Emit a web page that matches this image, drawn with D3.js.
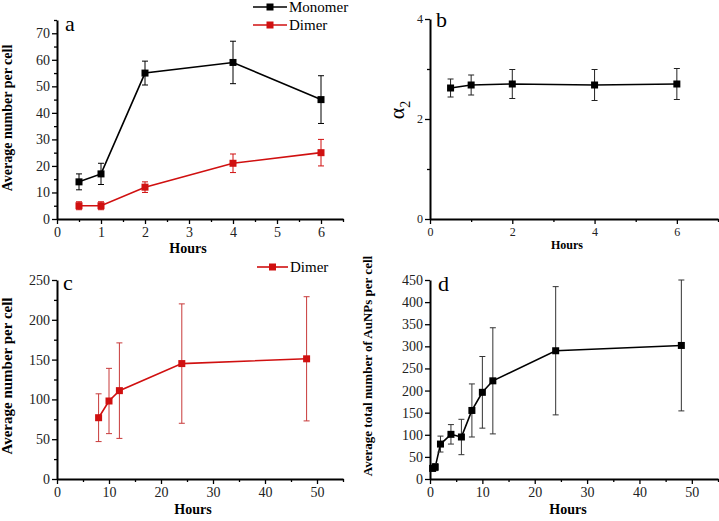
<!DOCTYPE html>
<html><head><meta charset="utf-8">
<script src="https://cdn.jsdelivr.net/npm/d3@7"></script>
<style>body{margin:0;background:#fff}svg text{font-family:"Liberation Serif","Times New Roman","DejaVu Serif",serif !important}</style>
</head><body><svg id="c" width="719" height="521"></svg>
<script>
// Panel a
const hoursA = [0.5, 1, 2, 4, 6];
const monomerA = [14, 17, 55, 59, 45];
const monomerErrA = [3, 4, 4.5, 8, 9];
const dimerA = [5, 5, 12, 21, 25];
const dimerErrA = [1.5, 1.5, 2, 3.5, 5];
// Panel b
const hoursB = [0.5, 1, 2, 4, 6];
const alphaB = [2.62, 2.68, 2.7, 2.68, 2.7];
const alphaErrB = [0.18, 0.2, 0.29, 0.31, 0.31];
// Panel c
const hoursC = [8, 10, 12, 24, 48];
const dimerC = [77, 98, 111, 145, 151];
const dimerErrC = [30, 41, 60, 75, 78];
// Panel d
const hoursD = [0.5, 1, 2, 4, 6, 8, 10, 12, 24, 48];
const totalD = [24, 27, 79, 101, 95, 155, 196, 222, 290, 302];
const totalErrD = [6, 8, 18, 22, 40, 60, 81, 120, 145, 148];

const RED = "#d01010", BLACK = "#000";
const FONT = '"Liberation Serif","Times New Roman",serif';
const svg = d3.select("#c");
const fmt = d3.format("d");

function panel(o){
  const g = svg.append("g");
  const x = d3.scaleLinear().domain(o.xd).range([o.x0, o.x1]);
  const y = d3.scaleLinear().domain(o.yd).range([o.y0, o.y1]);
  g.append("g").attr("transform",`translate(0,${o.y0})`)
    .call(d3.axisBottom(x).tickValues(o.xMinor).tickSize(3).tickFormat(""))
    .call(s=>s.select(".domain").remove());
  g.append("g").attr("transform",`translate(${o.x0},0)`)
    .call(d3.axisLeft(y).tickValues(o.yMinor).tickSize(3).tickFormat(""))
    .call(s=>s.select(".domain").remove());
  const ax = g.append("g").attr("transform",`translate(0,${o.y0})`)
    .call(d3.axisBottom(x).tickValues(o.xMajor).tickFormat(fmt).tickSize(5).tickPadding(3).tickSizeOuter(0));
  const ay = g.append("g").attr("transform",`translate(${o.x0},0)`)
    .call(d3.axisLeft(y).tickValues(o.yMajor).tickFormat(fmt).tickSize(5).tickPadding(2).tickSizeOuter(0));
  [ax, ay].forEach(a=>{
    a.attr("font-family",FONT);
    a.selectAll("text").style("font-family",FONT).attr("font-size",o.fs).attr("fill","#222");
    a.select(".domain").attr("stroke-width",2);
  });
  g.selectAll(".tick line").attr("stroke-width",1.3);
  g.append("text").attr("x",o.xtX).attr("y",o.xtY).attr("text-anchor","middle")
    .attr("font-weight","bold").attr("font-size",o.xtFs||14).text("Hours");
  if (o.yt) g.append("text").attr("transform",`translate(${o.ytX},${o.ytY}) rotate(-90)`)
    .attr("text-anchor","middle").attr("font-weight","bold").attr("font-size",o.ytFs||13).text(o.yt);
  g.append("text").attr("x",o.lx).attr("y",o.ly).attr("font-size",o.lfs||22).text(o.letter);
  return {g,x,y};
}

function series(p, xs, ys, es, color, ecolor, ew, sz){
  const {g,x,y} = p;
  const line = d3.line().x((d,i)=>x(xs[i])).y(d=>y(d));
  g.append("path").datum(ys).attr("d",line).attr("fill","none").attr("stroke",color).attr("stroke-width",1.6);
  const eb = g.append("g").attr("stroke",ecolor).attr("stroke-width",ew);
  ys.forEach((v,i)=>{
    const cx = x(xs[i]), t = y(v+es[i]), b = y(v-es[i]);
    eb.append("line").attr("x1",cx).attr("x2",cx).attr("y1",t).attr("y2",b);
    eb.append("line").attr("x1",cx-3).attr("x2",cx+3).attr("y1",t).attr("y2",t);
    eb.append("line").attr("x1",cx-3).attr("x2",cx+3).attr("y1",b).attr("y2",b);
  });
  g.selectAll(null).data(ys).enter().append("rect")
    .attr("x",(d,i)=>x(xs[i])-sz/2).attr("y",d=>y(d)-sz/2)
    .attr("width",sz).attr("height",sz).attr("fill",color);
}

function legendItem(x1, x2, yy, color, label){
  svg.append("line").attr("x1",x1).attr("x2",x2).attr("y1",yy).attr("y2",yy).attr("stroke",color).attr("stroke-width",1.6);
  svg.append("rect").attr("x",(x1+x2)/2-3.5).attr("y",yy-3.5).attr("width",7).attr("height",7).attr("fill",color);
  svg.append("text").attr("x",x2+2).attr("y",yy+5).attr("font-size",15).text(label);
}

// Panel a
const pa = panel({xd:[0,6.5], yd:[0,75], x0:57, x1:343, y0:219, y1:20,
  xMajor:[0,1,2,3,4,5,6], xMinor:d3.range(0.5,6.6,1),
  yMajor:d3.range(0,71,10), yMinor:d3.range(5,76,10), fs:14,
  xtX:188, xtY:253, yt:"Average number per cell", ytX:12, ytY:118, ytFs:14,
  letter:"a", lx:65, ly:31});
series(pa, hoursA, monomerA, monomerErrA, BLACK, BLACK, 1, 7);
series(pa, hoursA, dimerA, dimerErrA, RED, RED, 1, 7);
legendItem(253, 287, 7, BLACK, "Monomer");
legendItem(253, 287, 25, RED, "Dimer");

// Panel b
const pb = panel({xd:[0,7], yd:[0,4], x0:430, x1:718, y0:219, y1:19,
  xMajor:[0,2,4,6], xMinor:[1,3,5,7],
  yMajor:[0,2,4], yMinor:[1,3], fs:12,
  xtX:567, xtY:249, xtFs:12, yt:null,
  letter:"b", lx:436, ly:27, lfs:22});
svg.append("text").attr("transform","translate(404,110) rotate(-90)").attr("text-anchor","middle")
  .attr("font-size",22).html('α<tspan font-size="14" dy="6">2</tspan>');
series(pb, hoursB, alphaB, alphaErrB, BLACK, "#222", 1, 7);

// Panel c
const pc = panel({xd:[0,55], yd:[0,250], x0:57, x1:343, y0:479, y1:280,
  xMajor:[0,10,20,30,40,50], xMinor:[5,15,25,35,45,55],
  yMajor:d3.range(0,251,50), yMinor:d3.range(25,251,50), fs:14,
  xtX:193, xtY:514, yt:"Average number per cell", ytX:12, ytY:376, ytFs:15,
  letter:"c", lx:63, ly:290});
series(pc, hoursC, dimerC, dimerErrC, RED, "#c83a3a", 1, 7);
legendItem(257, 288, 267, RED, "Dimer");

// Panel d
const pd = panel({xd:[0,55], yd:[0,450], x0:430, x1:718, y0:479, y1:280,
  xMajor:[0,10,20,30,40,50], xMinor:[5,15,25,35,45,55],
  yMajor:d3.range(0,451,50), yMinor:[], fs:14,
  xtX:568, xtY:514, yt:"Average total number of AuNPs per cell", ytX:372, ytY:366, ytFs:13,
  letter:"d", lx:438, ly:291});
series(pd, hoursD, totalD, totalErrD, BLACK, "#333", 1, 7);
</script></body></html>
